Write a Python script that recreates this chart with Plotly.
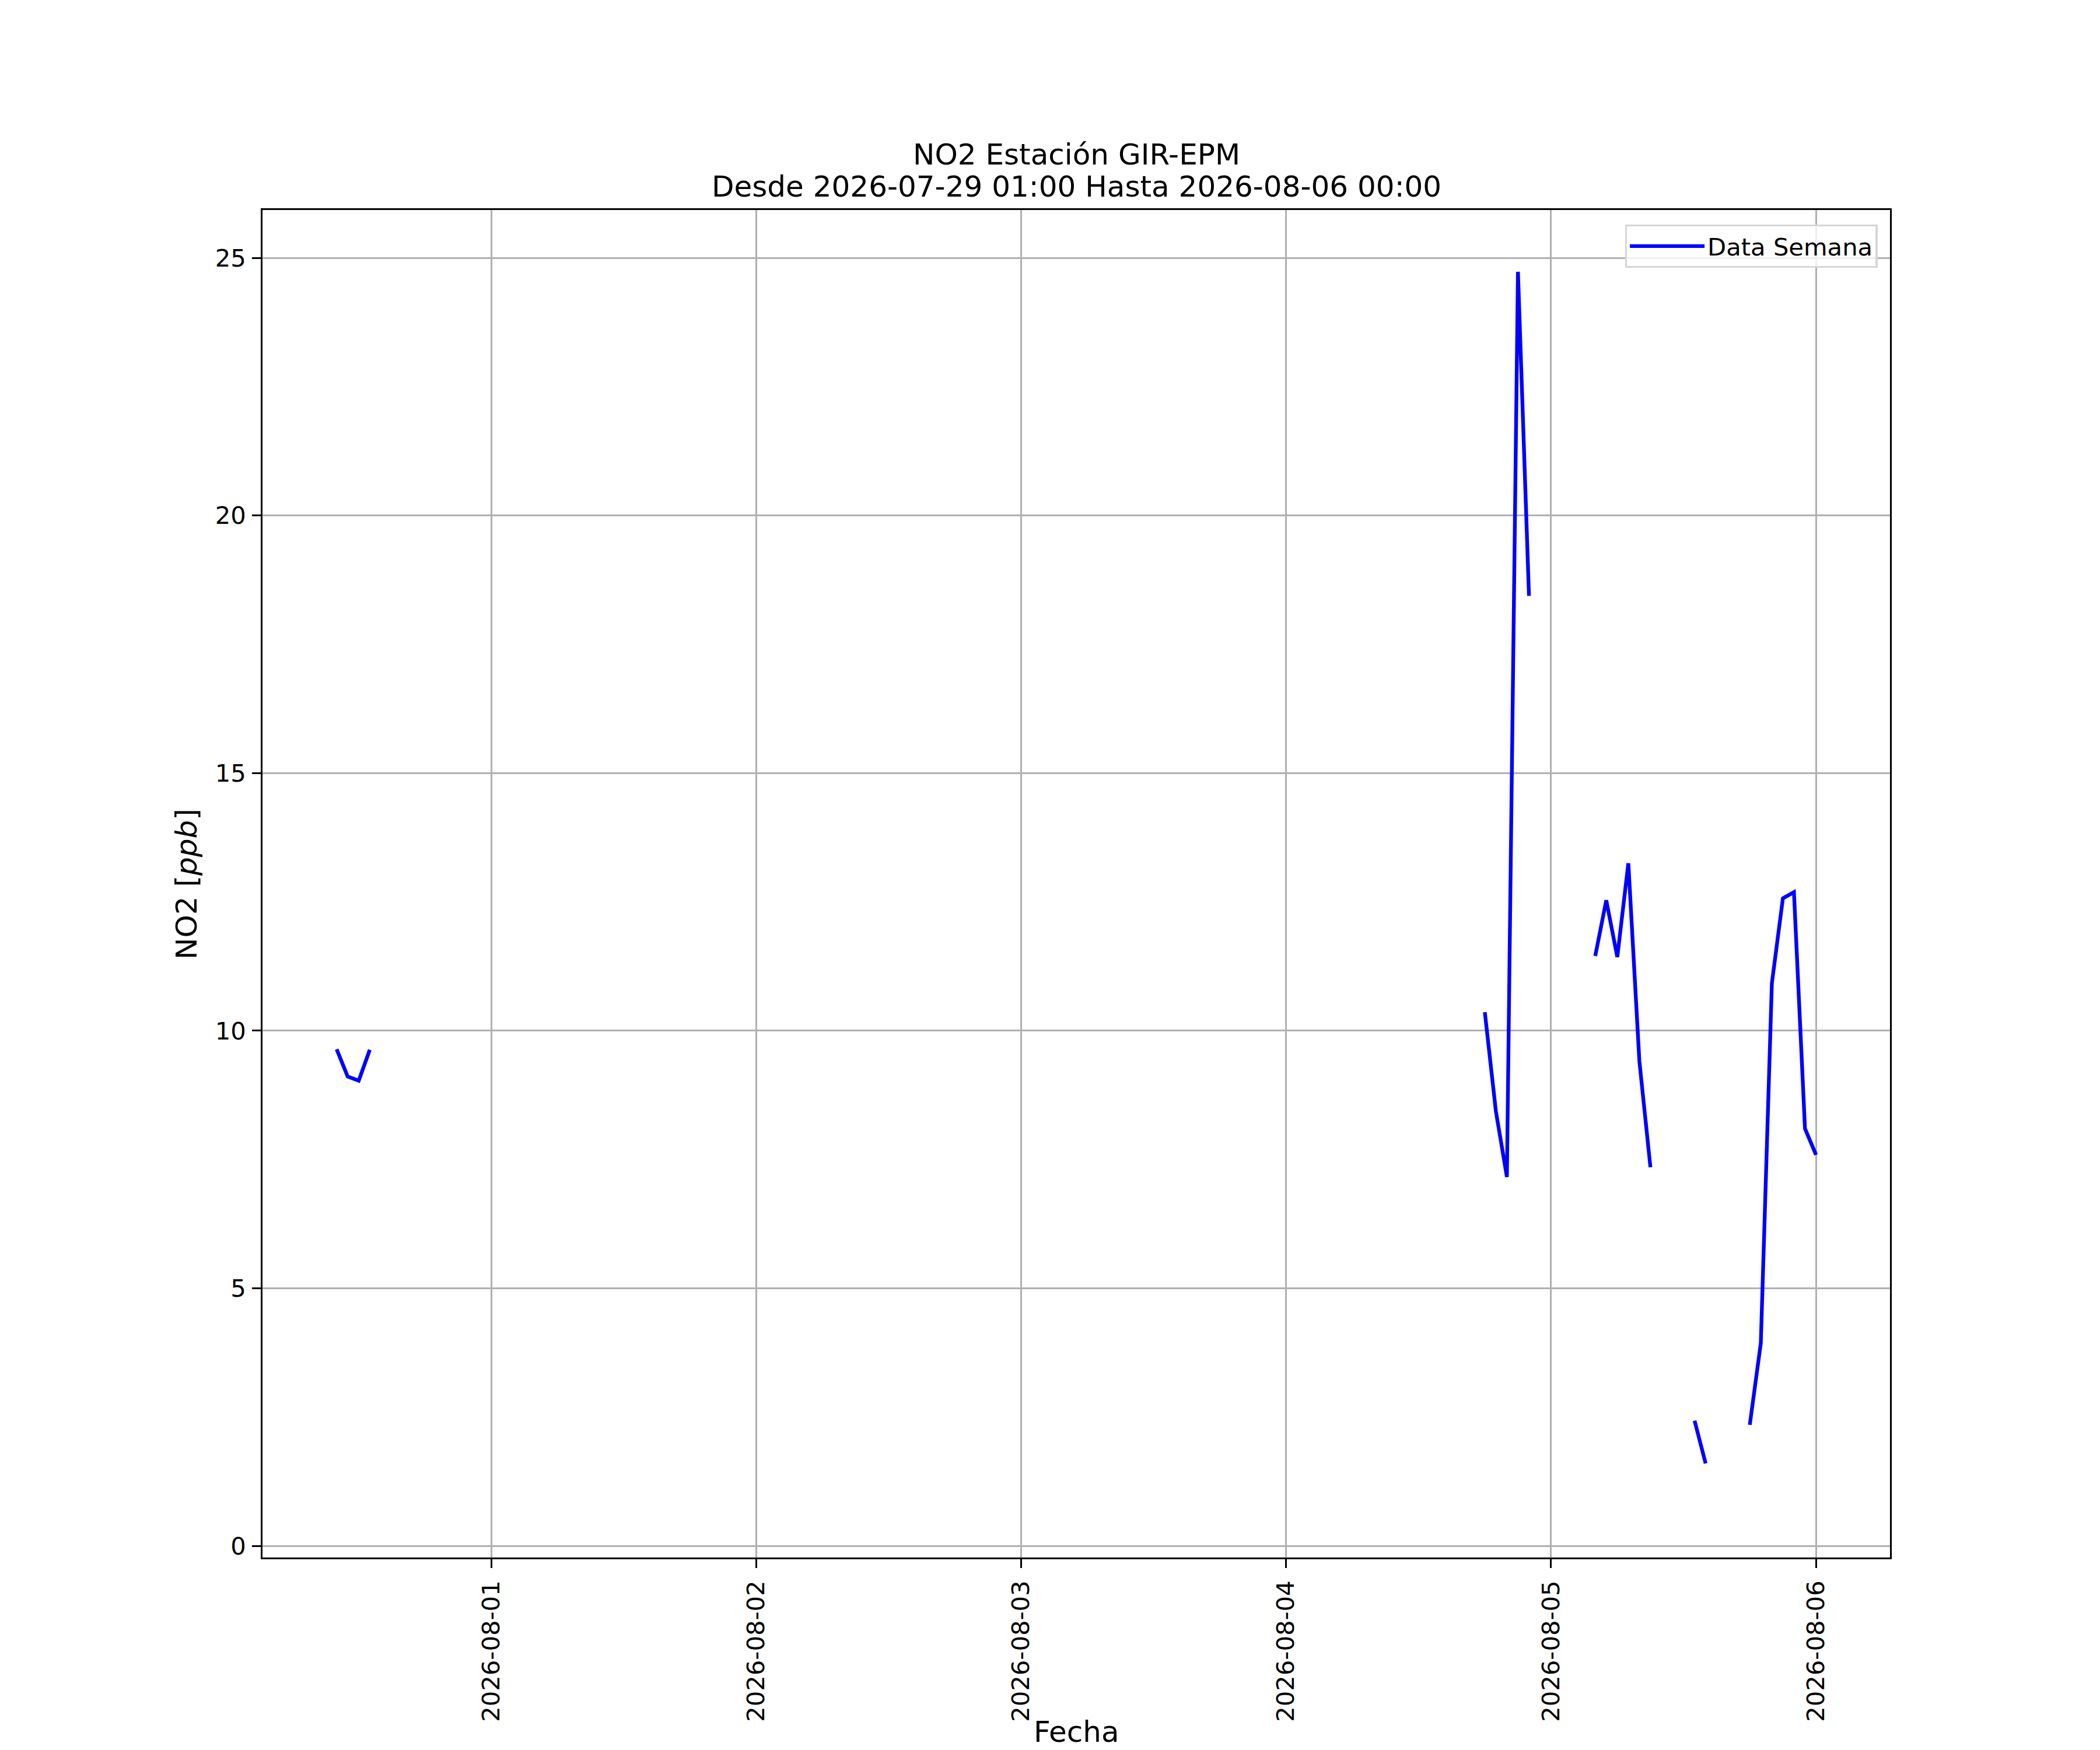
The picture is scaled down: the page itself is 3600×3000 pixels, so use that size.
import plotly.graph_objects as go

# Hourly NO2 readings (None = missing hour -> gap in the line)
times = [
    "2026-07-31 10:00", "2026-07-31 11:00", "2026-07-31 12:00", "2026-07-31 13:00",
    "2026-07-31 14:00",
    "2026-08-04 18:00", "2026-08-04 19:00", "2026-08-04 20:00", "2026-08-04 21:00", "2026-08-04 22:00",
    "2026-08-04 23:00",
    "2026-08-05 04:00", "2026-08-05 05:00", "2026-08-05 06:00", "2026-08-05 07:00", "2026-08-05 08:00",
    "2026-08-05 09:00",
    "2026-08-05 10:00",
    "2026-08-05 13:00", "2026-08-05 14:00",
    "2026-08-05 15:00",
    "2026-08-05 18:00", "2026-08-05 19:00", "2026-08-05 20:00", "2026-08-05 21:00", "2026-08-05 22:00",
    "2026-08-05 23:00", "2026-08-06 00:00",
]
no2 = [
    9.64, 9.11, 9.03, 9.63,
    None,
    10.36, 8.44, 7.16, 24.73, 18.44,
    None,
    11.45, 12.53, 11.43, 13.25, 9.41,
    7.35,
    None,
    2.43, 1.60,
    None,
    2.35, 3.94, 10.92, 12.57, 12.69,
    8.10, 7.59,
]

title_lines = ["NO2 Estación GIR-EPM", "Desde 2026-07-29 01:00 Hasta 2026-08-06 00:00"]
x_label = "Fecha"
y_label = "NO2 [<i>ppb</i>]"
series_name = "Data Semana"
x_range = ["2026-07-31 03:17", "2026-08-06 06:42"]
y_range = [-0.225, 25.93]

FONT = "DejaVu Sans"
TICK = 41.7
LABEL = 50

fig = go.Figure()
fig.add_trace(go.Scatter(
    x=times, y=no2, mode="lines", name=series_name,
    line=dict(color="#0000ff", width=6.4),
    connectgaps=False, showlegend=True,
))

axis_common = dict(
    showline=True, linecolor="black", linewidth=3.33, mirror=True,
    showgrid=True, gridcolor="#b0b0b0", gridwidth=3.33,
    ticks="outside", ticklen=14.6, tickwidth=3.33, tickcolor="black",
    tickfont=dict(family=FONT, size=TICK, color="black"),
    zeroline=False,
)

# the page body adds an 8px offset; margins compensate so the plot box
# lands at x 450..3240, y 360..2670 of the window
fig.update_layout(
    width=3600, height=3000, autosize=False,
    margin=dict(l=442, r=368, t=352, b=338, pad=0),
    paper_bgcolor="white", plot_bgcolor="white",
    font=dict(family=FONT, color="black"),
    xaxis=dict(
        type="date", range=x_range, dtick=86400000, tick0="2026-08-01",
        tickformat="%Y-%m-%d", tickangle=-90, ticklabelstandoff=5,
        **axis_common,
    ),
    yaxis=dict(
        range=y_range, dtick=5, tick0=0, ticklabelstandoff=2,
        **axis_common,
    ),
    legend=dict(
        x=0.9924, xanchor="right", y=0.9892, yanchor="top",
        bgcolor="rgba(255,255,255,0.8)", bordercolor="#d6d6d6", borderwidth=3.3,
        font=dict(family=FONT, size=TICK, color="black"),
        itemwidth=128,
    ),
    annotations=[
        dict(text=title_lines[0], xref="paper", yref="paper", x=0.5, y=1.0279,
             xanchor="center", yanchor="bottom", showarrow=False,
             font=dict(family=FONT, size=LABEL, color="black")),
        dict(text=title_lines[1], xref="paper", yref="paper", x=0.5, y=1.0041,
             xanchor="center", yanchor="bottom", showarrow=False,
             font=dict(family=FONT, size=LABEL, color="black")),
        dict(text=x_label, xref="paper", yref="paper", x=0.5, y=-0.1429,
             xanchor="center", yanchor="bottom", showarrow=False,
             font=dict(family=FONT, size=LABEL, color="black")),
        dict(text=y_label, xref="paper", yref="paper", x=-0.0466, y=0.5,
             xanchor="center", yanchor="middle", textangle=-90, showarrow=False,
             font=dict(family=FONT, size=LABEL, color="black")),
    ],
)

fig.write_html("out.html")
